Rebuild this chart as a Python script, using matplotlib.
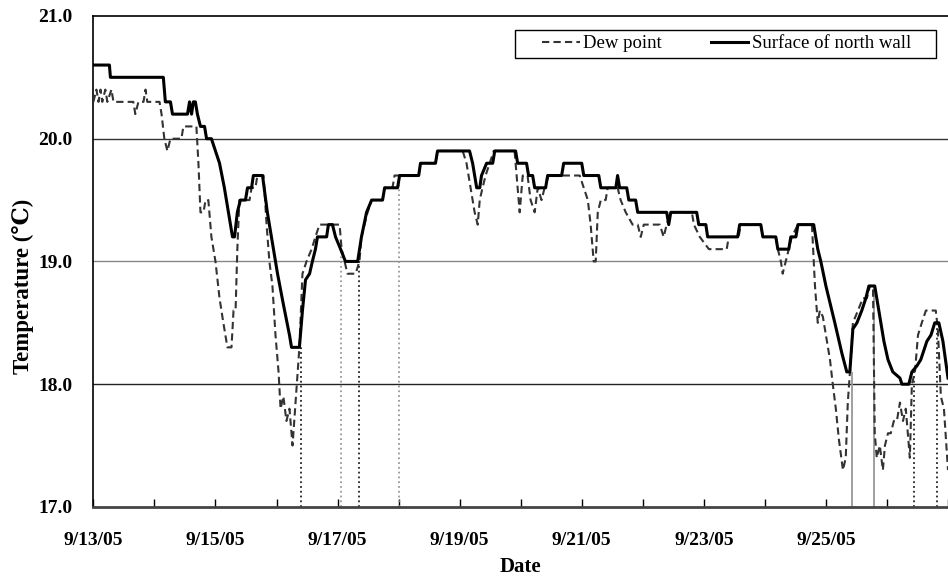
import numpy as np
import matplotlib
matplotlib.use("Agg")
import matplotlib.pyplot as plt
from matplotlib.patches import Rectangle

# =========================================================
# data (hours since 9/13/05 00:00, temperature in C)
# =========================================================

wall_h = [0, 6.3, 6.7, 27.5, 28.3, 30.3, 31.1, 37, 37.8, 38.6, 39.3, 40.1, 40.9,
          42.1, 43.7, 44.5, 46.4, 48, 49.6, 51.5, 53.1, 54.7, 55.5, 56.6, 57.8,
          59.8, 60.6, 62.2, 62.9, 66.5, 68.4, 70, 72.4, 74.7, 77.1, 77.9, 81,
          82.2, 83.4, 85, 86.1, 87.3, 88.1, 91.7, 92.4, 94, 95.2, 97.2, 99.1,
          103.9, 105.4, 107.4, 109.4, 113.7, 114.5, 119.6, 120.4, 127.9, 128.6,
          134.5, 135.3, 147.9, 149.1, 150.7, 151.9, 152.6, 154.6, 157, 157.8,
          166, 166.8, 170.3, 171.1, 172.7, 173.5, 177.8, 178.6, 184.1, 184.9,
          192, 192.8, 198.7, 199.5, 205.4, 206.1, 206.9, 209.7, 210.5, 213.2,
          214, 225.4, 226.2, 227, 237.2, 238, 240.8, 241.5, 253.3, 254.1,
          262.4, 263.2, 268.3, 269.1, 273.4, 274.2, 276.2, 277, 283.2, 284.8,
          286, 288, 291.5, 294.3, 296.2, 297.4, 298.6, 300.2, 302.1, 303.7,
          304.9, 307.2, 309.2, 310.8, 312.4, 314.3, 317.1, 317.9, 320.6, 321.8,
          323.8, 325.3, 327.7, 329.3, 330.8, 332.4, 334, 336]
wall_t = [20.6, 20.6, 20.5, 20.5, 20.3, 20.3, 20.2, 20.2, 20.3, 20.2, 20.3, 20.3, 20.2,
          20.1, 20.1, 20.0, 20.0, 19.9, 19.8, 19.6, 19.4, 19.2, 19.2, 19.4, 19.5,
          19.5, 19.6, 19.6, 19.7, 19.7, 19.4, 19.2, 18.9, 18.65, 18.4, 18.3, 18.3,
          18.6, 18.85, 18.9, 19.0, 19.1, 19.2, 19.2, 19.3, 19.3, 19.2, 19.1, 19.0,
          19.0, 19.2, 19.4, 19.5, 19.5, 19.6, 19.6, 19.7, 19.7, 19.8,
          19.8, 19.9, 19.9, 19.8, 19.6, 19.6, 19.7, 19.8, 19.8, 19.9,
          19.9, 19.8, 19.8, 19.7, 19.7, 19.6, 19.6, 19.7, 19.7, 19.8,
          19.8, 19.7, 19.7, 19.6, 19.6, 19.7, 19.6, 19.6, 19.5, 19.5,
          19.4, 19.4, 19.3, 19.4, 19.4, 19.3, 19.3, 19.2, 19.2, 19.3,
          19.3, 19.2, 19.2, 19.1, 19.1, 19.2, 19.2, 19.3, 19.3, 19.1,
          19.0, 18.8, 18.5, 18.25, 18.1, 18.1, 18.45, 18.5, 18.6, 18.7,
          18.8, 18.8, 18.55, 18.35, 18.2, 18.1, 18.05, 18.0, 18.0, 18.1,
          18.15, 18.2, 18.35, 18.4, 18.5, 18.5, 18.35, 18.05]

dew_h = [0, 1.2, 2, 2.8, 3.5, 4.7, 5.5, 7.1, 7.9, 15.7, 16.5, 17.7, 19.7, 20.5,
         21.2, 26, 26.8, 27.9, 29.1, 30.3, 34.6, 35.4, 40.5, 41.3, 42.1, 43.3,
         44.1, 45.2, 46.4, 48, 49.6, 51.1, 52.7, 54.3, 55.1, 55.9, 56.6, 57.4,
         61.4, 62.2, 63.7, 64.5, 66.9, 68.1, 69.2, 70.4, 71.6, 72.8, 73.6,
         74.7, 75.9, 77.1, 78.3, 79.5, 81, 82.2, 83.8, 85.8, 87.3, 88.9, 96.8,
         97.6, 99.9, 103.1, 104.6, 105.4, 107.8, 109.4, 113.7, 114.5, 117.6,
         118.4, 127.9, 128.6, 134.5, 135.3, 145.2, 146.7, 148.3, 149.9, 151.1,
         151.9, 153, 154.2, 155.8, 157.4, 165.6, 166.4, 167.6, 168.8, 170.7,
         171.9, 173.5, 174.7, 176.2, 177.4, 179, 191.2, 192.8, 194.4, 195.5,
         196.7, 197.5, 198.3, 199.5, 201.4, 202.2, 206.1, 207.3, 209.3, 212,
         214, 215.2, 216.4, 222.7, 224.2, 225.4, 227, 235.3, 236.1, 238.4, 242,
         249, 249.8, 253.7, 254.5, 262.4, 263.2, 268.3, 269.1, 270.3, 271,
         272.2, 273.4, 274.6, 277, 282.5, 283.7, 284.8, 285.6, 286.8, 288,
         289.6, 290.7, 291.9, 293.1, 294.7, 295.8, 296.6, 297.8, 298.6, 300.6,
         302.5, 304.1, 305.3, 306.5, 307.2, 308, 309.2, 310.4, 311.2, 312.4,
         313.5, 314.7, 315.9, 317.1, 318.3, 319.4, 320.2, 321, 321.8, 323,
         324.2, 325.7, 327.3, 331.2, 332, 333.2, 334.4, 336]
dew_t = [20.3, 20.4, 20.3, 20.4, 20.3, 20.4, 20.3, 20.4, 20.3, 20.3, 20.2, 20.3, 20.3, 20.4,
         20.3, 20.3, 20.2, 20.0, 19.9, 20.0, 20.0, 20.1, 20.1, 19.8, 19.4, 19.4,
         19.5, 19.5, 19.2, 19.0, 18.7, 18.5, 18.3, 18.3, 18.6, 18.6, 19.1, 19.5,
         19.5, 19.6, 19.6, 19.7, 19.7, 19.3, 19.0, 18.8, 18.4, 18.1, 17.8,
         17.9, 17.7, 17.8, 17.5, 17.85, 18.3, 18.9, 19.0, 19.1, 19.2, 19.3, 19.3,
         19.1, 18.9, 18.9, 19.0, 19.2, 19.4, 19.5, 19.5, 19.6, 19.6,
         19.7, 19.7, 19.8, 19.8, 19.9, 19.9, 19.8, 19.6, 19.4, 19.3,
         19.5, 19.6, 19.7, 19.8, 19.9, 19.9, 19.7, 19.4, 19.7, 19.7,
         19.5, 19.4, 19.6, 19.5, 19.6, 19.7, 19.7, 19.6, 19.5, 19.3,
         19.0, 19.0, 19.4, 19.5, 19.5, 19.6, 19.6, 19.5, 19.4, 19.3,
         19.3, 19.2, 19.3, 19.3, 19.2, 19.3, 19.4, 19.4, 19.3, 19.2, 19.1,
         19.1, 19.2, 19.2, 19.3, 19.3, 19.2, 19.2, 19.1, 19.0, 18.9,
         19.0, 19.1, 19.2, 19.3, 19.3, 18.8, 18.5, 18.6, 18.55, 18.4,
         18.2, 18.0, 17.8, 17.55, 17.3, 17.4, 17.85, 18.2, 18.5, 18.6,
         18.7, 18.7, 18.8, 18.8, 17.6, 17.4, 17.5, 17.3, 17.5, 17.6,
         17.6, 17.7, 17.7, 17.85, 17.7, 17.8, 17.6, 17.4, 18.0, 18.1,
         18.4, 18.5, 18.6, 18.6, 18.45, 17.9, 17.8, 17.3]

# condensation markers
mark_h = [81.8, 97.2, 104.6, 120.0, 298.2, 306.9, 322.6, 331.6]
mark_top = [18.3, 19.05, 19.0, 19.7, 18.1, 18.8, 18.1, 18.5]

day_labels = ["9/13/05", "9/15/05", "9/17/05", "9/19/05", "9/21/05", "9/23/05", "9/25/05"]
y_ticks = [17.0, 18.0, 19.0, 20.0, 21.0]

# =========================================================
# plot
# =========================================================

plt.rcParams['font.family'] = ['Liberation Serif', 'DejaVu Serif']

fig = plt.figure(figsize=(9.48, 5.8), dpi=100)
ax = fig.add_axes([0.0985, 0.126, 0.9015, 0.8465])

for yv, c in zip([18.0, 19.0, 20.0], ["#222222", "#888888", "#333333"]):
    ax.axhline(yv, color=c, lw=1.0, zorder=1)

mark_styles = [("#222222", ":"), ("#999999", ":"), ("#222222", ":"), ("#999999", ":"),
               ("#999999", "-"), ("#999999", "-"), ("#222222", ":"), ("#222222", ":")]
for h, top, (c, ls) in zip(mark_h, mark_top, mark_styles):
    ax.vlines(h, 17.0, top, colors=c, linestyles=ls, lw=1.3, zorder=2)

ax.plot(dew_h, dew_t, color="#333333", lw=1.5, ls=(0, (3.5, 2)), label="Dew point", zorder=3)
ax.plot(wall_h, wall_t, color="black", lw=2.2, label="Surface of north wall", zorder=4)

ax.set_xlim(0, 336)
ax.set_ylim(17.0, 21.0)
ax.set_yticks(y_ticks)
ax.set_yticklabels(["%.1f" % v for v in y_ticks], fontsize=14, fontweight="bold")
ax.set_xticks(np.arange(0, 337, 24), minor=True)
ax.set_xticks(np.arange(0, 24 * 2 * len(day_labels), 48))
ax.set_xticklabels(day_labels, fontsize=14, fontweight="bold")
ax.tick_params(axis="y", length=0, pad=15)
ax.tick_params(axis="x", which="both", direction="in", length=6, width=1, pad=18)

for s in ["left", "top"]:
    ax.spines[s].set_linewidth(1.2)
ax.spines["bottom"].set_linewidth(2.0)
ax.spines["bottom"].set_color("#444444")
ax.spines["right"].set_visible(False)

ax.set_xlabel("Date", fontsize=15, fontweight="bold", labelpad=6)
ax.set_ylabel("Temperature (\u2103)", fontsize=16.5, fontweight="bold")
ax.yaxis.set_label_coords(-0.07, 0.45)

# legend box
box = Rectangle((0.493, 0.9145), 0.4925, 0.057, transform=ax.transAxes,
                facecolor="white", edgecolor="black", lw=1.0, zorder=5)
ax.add_patch(box)
leg = ax.legend(loc="center", bbox_to_anchor=(0.741, 0.943), ncol=2, fontsize=13.5,
                frameon=False, handlelength=2.0, handletextpad=0.2, columnspacing=2.6,
                borderpad=0.0)
leg.set_zorder(6)

fig.savefig("out.png", dpi=100)
